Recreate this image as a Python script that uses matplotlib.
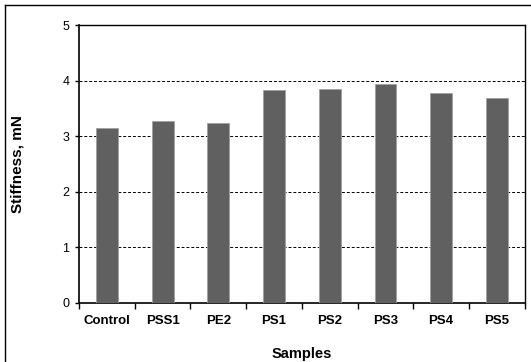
import matplotlib
matplotlib.use("Agg")
import matplotlib.pyplot as plt
from matplotlib.lines import Line2D

plt.rcParams['font.family'] = ['Liberation Sans', 'DejaVu Sans']

samples = ['Control', 'PSS1', 'PE2', 'PS1', 'PS2', 'PS3', 'PS4', 'PS5']
stiffness = [3.15, 3.27, 3.24, 3.83, 3.86, 3.94, 3.79, 3.70]
y_ticks = [0, 1, 2, 3, 4, 5]

fig = plt.figure(figsize=(5.31, 3.62), dpi=100)
ax = fig.add_axes([0.149, 0.163, 0.839, 0.767])

x = list(range(len(samples)))
ax.bar(x, stiffness, width=0.39, color='#606060', edgecolor='#a0a0a0', linewidth=0.6, zorder=3)

ax.set_xlim(-0.5, len(samples) - 0.5)
ax.set_ylim(0, 5)
ax.set_yticks(y_ticks)
ax.set_yticklabels([str(t) for t in y_ticks], fontsize=9)
ax.set_xticks(x)
ax.set_xticklabels(samples, fontsize=9.5, fontweight='bold')
ax.tick_params(axis='x', length=0, pad=9)
ax.set_xticks([i + 0.5 for i in x[:-1]] + [-0.5, len(samples) - 0.5], minor=True)
ax.tick_params(axis='x', which='minor', length=4, direction='out', width=1)
ax.tick_params(axis='y', length=3, direction='out', width=1, pad=4)

for v in y_ticks[1:-1]:
    ax.axhline(v, color='black', linestyle=(0, (3, 2)), linewidth=0.7, zorder=1)

for s in ax.spines.values():
    s.set_linewidth(1.2)
ax.spines['right'].set_linewidth(1.0)
ax.spines['top'].set_linewidth(1.0)

ax.set_ylabel('Stiffness, mN', fontsize=11, fontweight='bold', labelpad=27)
ax.set_xlabel('Samples', fontsize=10.5, fontweight='bold', labelpad=14)

# outer frame (top and left edges only visible)
fig.add_artist(Line2D([5 / 531, 1], [1 - 5 / 362, 1 - 5 / 362], color='black', linewidth=1, transform=fig.transFigure))
fig.add_artist(Line2D([5 / 531, 5 / 531], [0, 1 - 5 / 362], color='black', linewidth=1, transform=fig.transFigure))

fig.savefig('out.png', dpi=100)
